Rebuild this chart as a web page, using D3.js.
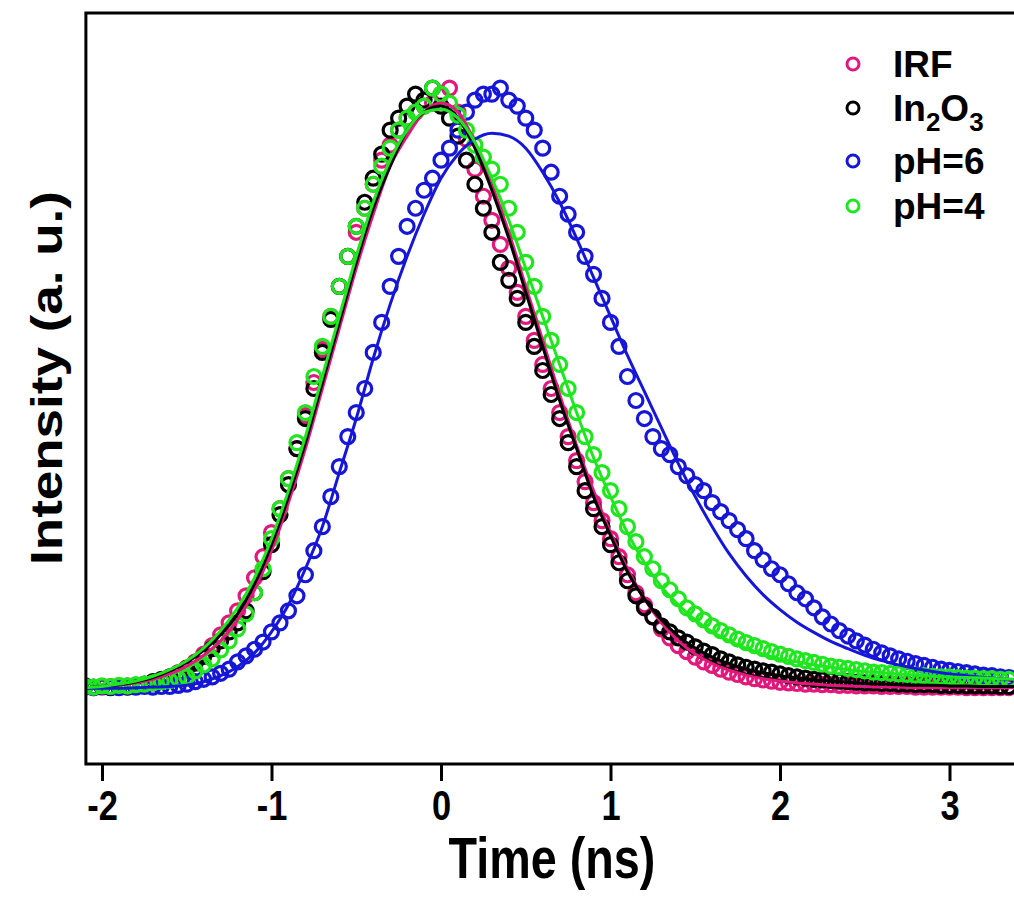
<!DOCTYPE html>
<html>
<head>
<meta charset="utf-8">
<script src="https://cdn.jsdelivr.net/npm/d3@7"></script>
<style>
  html, body { margin: 0; padding: 0; background: #fff; }
  svg { display: block; font-family: "Liberation Sans", Arial, sans-serif; font-weight: bold; }
</style>
</head>
<body>
<svg id="chart" width="1014" height="909"></svg>
<script>
// measured decay traces, time in ns (0.05 ns steps)
const timePoints = [
  -2.10, -2.05, -2.00, -1.95, -1.90, -1.85, -1.80, -1.75, -1.70, -1.65,
  -1.60, -1.55, -1.50, -1.45, -1.40, -1.35, -1.30, -1.25, -1.20, -1.15,
  -1.10, -1.05, -1.00, -0.95, -0.90, -0.85, -0.80, -0.75, -0.70, -0.65,
  -0.60, -0.55, -0.50, -0.45, -0.40, -0.35, -0.30, -0.25, -0.20, -0.15,
  -0.10, -0.05, 0.00, 0.05, 0.10, 0.15, 0.20, 0.25, 0.30, 0.35,
  0.40, 0.45, 0.50, 0.55, 0.60, 0.65, 0.70, 0.75, 0.80, 0.85,
  0.90, 0.95, 1.00, 1.05, 1.10, 1.15, 1.20, 1.25, 1.30, 1.35,
  1.40, 1.45, 1.50, 1.55, 1.60, 1.65, 1.70, 1.75, 1.80, 1.85,
  1.90, 1.95, 2.00, 2.05, 2.10, 2.15, 2.20, 2.25, 2.30, 2.35,
  2.40, 2.45, 2.50, 2.55, 2.60, 2.65, 2.70, 2.75, 2.80, 2.85,
  2.90, 2.95, 3.00, 3.05, 3.10, 3.15, 3.20, 3.25, 3.30, 3.35
];

const irfValues = [
  0.004, 0.002, 0.003, 0.004, 0.003, 0.005, 0.004, 0.006, 0.010, 0.014,
  0.020, 0.027, 0.035, 0.045, 0.058, 0.072, 0.090, 0.110, 0.130, 0.155,
  0.185, 0.220, 0.260, 0.300, 0.350, 0.400, 0.455, 0.510, 0.565, 0.620,
  0.670, 0.720, 0.760, 0.800, 0.840, 0.880, 0.905, 0.930, 0.950, 0.960,
  0.970, 0.975, 0.990, 1.000, 0.960, 0.915, 0.865, 0.820, 0.780, 0.740,
  0.700, 0.660, 0.620, 0.580, 0.540, 0.500, 0.460, 0.420, 0.380, 0.345,
  0.310, 0.280, 0.250, 0.220, 0.190, 0.160, 0.140, 0.120, 0.100, 0.085,
  0.072, 0.062, 0.053, 0.045, 0.039, 0.033, 0.028, 0.024, 0.020, 0.017,
  0.015, 0.013, 0.011, 0.010, 0.009, 0.008, 0.008, 0.007, 0.007, 0.006,
  0.006, 0.005, 0.005, 0.005, 0.004, 0.004, 0.004, 0.004, 0.003, 0.003,
  0.003, 0.003, 0.003, 0.003, 0.002, 0.002, 0.002, 0.002, 0.002, 0.002
];

const in2o3Values = [
  0.005, 0.003, 0.004, 0.002, 0.004, 0.003, 0.006, 0.008, 0.012, 0.016,
  0.020, 0.026, 0.034, 0.043, 0.054, 0.067, 0.080, 0.095, 0.110, 0.130,
  0.160, 0.195, 0.240, 0.290, 0.340, 0.400, 0.450, 0.500, 0.560, 0.615,
  0.670, 0.720, 0.770, 0.810, 0.850, 0.890, 0.930, 0.950, 0.970, 0.990,
  0.980, 1.000, 0.970, 0.950, 0.920, 0.880, 0.840, 0.800, 0.760, 0.710,
  0.680, 0.650, 0.610, 0.570, 0.530, 0.490, 0.450, 0.410, 0.370, 0.330,
  0.300, 0.270, 0.240, 0.210, 0.180, 0.155, 0.135, 0.120, 0.105, 0.095,
  0.085, 0.078, 0.070, 0.063, 0.057, 0.050, 0.045, 0.040, 0.036, 0.033,
  0.030, 0.028, 0.025, 0.022, 0.020, 0.018, 0.016, 0.015, 0.014, 0.013,
  0.012, 0.011, 0.010, 0.010, 0.009, 0.009, 0.008, 0.008, 0.007, 0.007,
  0.007, 0.006, 0.006, 0.006, 0.005, 0.005, 0.005, 0.005, 0.004, 0.004
];

const ph6Values = [
  0.003, 0.002, 0.004, 0.003, 0.002, 0.004, 0.003, 0.004, 0.003, 0.004,
  0.004, 0.006, 0.008, 0.012, 0.016, 0.020, 0.026, 0.033, 0.045, 0.055,
  0.066, 0.078, 0.095, 0.110, 0.130, 0.155, 0.190, 0.230, 0.270, 0.320,
  0.370, 0.420, 0.460, 0.500, 0.560, 0.610, 0.670, 0.720, 0.770, 0.800,
  0.830, 0.850, 0.880, 0.900, 0.930, 0.960, 0.980, 0.990, 0.990, 1.000,
  0.980, 0.970, 0.950, 0.930, 0.900, 0.860, 0.820, 0.790, 0.760, 0.720,
  0.690, 0.650, 0.610, 0.570, 0.520, 0.480, 0.450, 0.420, 0.400, 0.390,
  0.370, 0.355, 0.340, 0.330, 0.310, 0.295, 0.280, 0.265, 0.250, 0.230,
  0.215, 0.200, 0.190, 0.175, 0.160, 0.150, 0.135, 0.120, 0.108, 0.097,
  0.088, 0.080, 0.073, 0.066, 0.060, 0.055, 0.050, 0.046, 0.042, 0.039,
  0.036, 0.033, 0.031, 0.029, 0.027, 0.025, 0.023, 0.022, 0.020, 0.019
];

const ph4Values = [
  0.004, 0.003, 0.005, 0.004, 0.006, 0.005, 0.007, 0.008, 0.010, 0.012,
  0.014, 0.017, 0.020, 0.030, 0.040, 0.050, 0.065, 0.080, 0.100, 0.125,
  0.160, 0.200, 0.250, 0.300, 0.350, 0.410, 0.460, 0.520, 0.570, 0.620,
  0.670, 0.720, 0.770, 0.800, 0.840, 0.870, 0.900, 0.930, 0.950, 0.960,
  0.970, 1.000, 0.990, 0.975, 0.955, 0.930, 0.905, 0.885, 0.865, 0.840,
  0.800, 0.760, 0.710, 0.670, 0.620, 0.580, 0.540, 0.500, 0.460, 0.420,
  0.390, 0.360, 0.330, 0.300, 0.270, 0.245, 0.220, 0.200, 0.180, 0.165,
  0.150, 0.135, 0.125, 0.115, 0.105, 0.097, 0.090, 0.083, 0.077, 0.072,
  0.067, 0.062, 0.058, 0.054, 0.050, 0.047, 0.044, 0.041, 0.038, 0.036,
  0.034, 0.032, 0.030, 0.028, 0.027, 0.026, 0.025, 0.024, 0.023, 0.022,
  0.021, 0.020, 0.020, 0.019, 0.018, 0.018, 0.017, 0.017, 0.016, 0.016
];

// fitted curves, 0.1 ns steps
const fitTimes = [
  -2.1, -2.0, -1.9, -1.8, -1.7, -1.6, -1.5, -1.4, -1.3, -1.2,
  -1.1, -1.0, -0.9, -0.8, -0.7, -0.6, -0.5, -0.4, -0.3, -0.2,
  -0.1, 0.0, 0.1, 0.2, 0.3, 0.4, 0.5, 0.6, 0.7, 0.8,
  0.9, 1.0, 1.1, 1.2, 1.3, 1.4, 1.5, 1.6, 1.7, 1.8,
  1.9, 2.0, 2.1, 2.2, 2.3, 2.4, 2.5, 2.6, 2.7, 2.8,
  2.9, 3.0, 3.1, 3.2, 3.3, 3.4
];

const irfFit = [
  0.001, 0.003, 0.006, 0.010, 0.016, 0.025, 0.038, 0.056, 0.080, 0.115,
  0.165, 0.230, 0.310, 0.400, 0.500, 0.600, 0.700, 0.790, 0.870, 0.920,
  0.960, 0.975, 0.960, 0.910, 0.840, 0.760, 0.670, 0.580, 0.490, 0.405,
  0.330, 0.260, 0.200, 0.150, 0.110, 0.080, 0.058, 0.042, 0.031, 0.023,
  0.017, 0.013, 0.010, 0.008, 0.006, 0.005, 0.004, 0.003, 0.003, 0.002,
  0.002, 0.002, 0.002, 0.002, 0.002, 0.002
];

const in2o3Fit = [
  0.002, 0.004, 0.007, 0.012, 0.019, 0.030, 0.044, 0.064, 0.090, 0.125,
  0.175, 0.240, 0.320, 0.410, 0.510, 0.610, 0.710, 0.800, 0.870, 0.930,
  0.960, 0.970, 0.950, 0.900, 0.830, 0.750, 0.660, 0.570, 0.480, 0.400,
  0.320, 0.255, 0.195, 0.150, 0.115, 0.088, 0.068, 0.053, 0.042, 0.033,
  0.027, 0.022, 0.018, 0.015, 0.013, 0.011, 0.009, 0.008, 0.007, 0.006,
  0.006, 0.005, 0.005, 0.004, 0.004, 0.004
];

const ph6Fit = [
  0.001, 0.001, 0.001, 0.002, 0.003, 0.004, 0.006, 0.012, 0.022, 0.037,
  0.060, 0.095, 0.140, 0.200, 0.270, 0.360, 0.450, 0.550, 0.640, 0.720,
  0.790, 0.850, 0.890, 0.915, 0.925, 0.920, 0.900, 0.860, 0.810, 0.750,
  0.685, 0.620, 0.555, 0.495, 0.435, 0.375, 0.320, 0.270, 0.225, 0.188,
  0.157, 0.132, 0.111, 0.094, 0.079, 0.067, 0.056, 0.047, 0.040, 0.034,
  0.029, 0.025, 0.022, 0.019, 0.017, 0.015
];

const ph4Fit = [
  0.002, 0.004, 0.008, 0.013, 0.021, 0.032, 0.047, 0.068, 0.097, 0.135,
  0.185, 0.250, 0.330, 0.420, 0.520, 0.620, 0.720, 0.810, 0.880, 0.930,
  0.960, 0.965, 0.950, 0.910, 0.850, 0.780, 0.700, 0.620, 0.540, 0.460,
  0.385, 0.320, 0.260, 0.210, 0.170, 0.140, 0.115, 0.095, 0.080, 0.068,
  0.058, 0.050, 0.045, 0.040, 0.036, 0.032, 0.029, 0.027, 0.025, 0.023,
  0.021, 0.020, 0.019, 0.018, 0.017, 0.016
];

const xTicks = [-2, -1, 0, 1, 2, 3];
const seriesNames = ['IRF', 'In2O3', 'pH=6', 'pH=4'];
const seriesColors = ['#e2187c', '#000000', '#1616d8', '#20e620'];

// axis text in the figure is squeezed horizontally
const SQUEEZE = 0.82;

const svg = d3.select('svg#chart');

const x = d3.scaleLinear().domain([-2, 3]).range([102, 949.5]);
const y = d3.scaleLinear().domain([-0.125, 1.125]).range([764, 13]);

const frameLeft = x(-2.095);
const frameRight = 1040;
const frameTop = y(1.125);
const frameBottom = y(-0.125);

svg.append('clipPath')
  .attr('id', 'plot-clip')
  .append('rect')
  .attr('x', frameLeft)
  .attr('y', frameTop)
  .attr('width', frameRight - frameLeft)
  .attr('height', frameBottom - frameTop);

const plot = svg.append('g').attr('clip-path', 'url(#plot-clip)');

const circleSets = [irfValues, in2o3Values, ph6Values, ph4Values];
const fitSets = [irfFit, in2o3Fit, ph6Fit, ph4Fit];

// open circles for the data
circleSets.forEach((vals, i) => {
  plot.append('g')
    .selectAll('circle')
    .data(vals)
    .enter()
    .append('circle')
    .attr('cx', (d, k) => x(timePoints[k]))
    .attr('cy', (d) => y(d))
    .attr('r', 7)
    .attr('fill', 'none')
    .attr('stroke', seriesColors[i])
    .attr('stroke-width', 3.2);
});

// fit lines on top
const line = d3.line()
  .x((d, k) => x(fitTimes[k]))
  .y((d) => y(d))
  .curve(d3.curveMonotoneX);

fitSets.forEach((vals, i) => {
  plot.append('path')
    .datum(vals)
    .attr('d', line)
    .attr('fill', 'none')
    .attr('stroke', seriesColors[i])
    .attr('stroke-width', 3);
});

// frame
svg.append('path')
  .attr('d', `M${frameRight},${frameTop}H${frameLeft}V${frameBottom}H${frameRight}`)
  .attr('fill', 'none')
  .attr('stroke', '#000')
  .attr('stroke-width', 3);

// bottom axis
const xAxis = d3.axisBottom(x)
  .tickValues(xTicks)
  .tickSize(17)
  .tickSizeOuter(0)
  .tickPadding(9)
  .tickFormat((d) => String(d));

const axisG = svg.append('g')
  .attr('transform', `translate(0,${frameBottom})`)
  .call(xAxis);

axisG.select('.domain').remove();
axisG.selectAll('.tick line').attr('stroke', '#000').attr('stroke-width', 3);
axisG.selectAll('.tick text')
  .attr('fill', '#000')
  .attr('font-size', 42)
  .attr('font-family', '"Liberation Sans", Arial, sans-serif')
  .attr('font-weight', 'bold')
  .attr('transform', `scale(${SQUEEZE},1)`);

// axis titles
svg.append('text')
  .attr('transform', `translate(552,878) scale(${SQUEEZE},1)`)
  .attr('text-anchor', 'middle')
  .attr('font-size', 57)
  .text('Time (ns)');

svg.append('text')
  .attr('transform', `translate(62,378) scale(${SQUEEZE},1) rotate(-90)`)
  .attr('text-anchor', 'middle')
  .attr('font-size', 53)
  .text('Intensity (a. u.)');

// legend
const legendY = [64, 108, 161, 206];
const legend = svg.append('g');

legend.selectAll('circle')
  .data(seriesNames)
  .enter()
  .append('circle')
  .attr('cx', 853)
  .attr('cy', (d, i) => legendY[i])
  .attr('r', 6)
  .attr('fill', 'none')
  .attr('stroke', (d, i) => seriesColors[i])
  .attr('stroke-width', 3);

const labels = legend.selectAll('text')
  .data(seriesNames)
  .enter()
  .append('text')
  .attr('x', 893)
  .attr('y', (d, i) => legendY[i] + 13)
  .attr('font-size', 37);

labels.each(function (d) {
  const t = d3.select(this);
  if (d === 'In2O3') {
    t.append('tspan').text('In');
    t.append('tspan').attr('dy', 10).attr('font-size', 26).text('2');
    t.append('tspan').attr('dy', -10).text('O');
    t.append('tspan').attr('dy', 10).attr('font-size', 26).text('3');
  } else {
    t.text(d);
  }
});
</script>
</body>
</html>
